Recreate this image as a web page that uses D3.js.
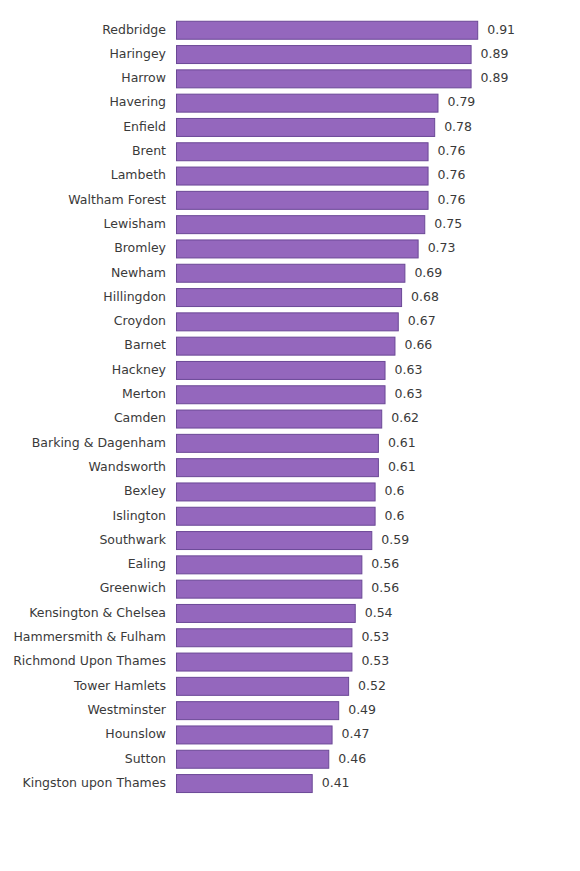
<!DOCTYPE html>
<html>
<head>
<meta charset="utf-8">
<script src="https://cdn.jsdelivr.net/npm/d3@7"></script>
<style>
  body { margin: 0; background: #fff; }
  text { font-family: "DejaVu Sans", sans-serif; font-size: 12.5px; fill: #3a3a3a; }
</style>
</head>
<body>
<svg></svg>
<script>
const boroughs = ["Redbridge", "Haringey", "Harrow", "Havering", "Enfield", "Brent", "Lambeth",
  "Waltham Forest", "Lewisham", "Bromley", "Newham", "Hillingdon", "Croydon", "Barnet", "Hackney",
  "Merton", "Camden", "Barking & Dagenham", "Wandsworth", "Bexley", "Islington", "Southwark",
  "Ealing", "Greenwich", "Kensington & Chelsea", "Hammersmith & Fulham", "Richmond Upon Thames",
  "Tower Hamlets", "Westminster", "Hounslow", "Sutton", "Kingston upon Thames"];
const values = [0.91, 0.89, 0.89, 0.79, 0.78, 0.76, 0.76, 0.76, 0.75, 0.73, 0.69, 0.68, 0.67,
  0.66, 0.63, 0.63, 0.62, 0.61, 0.61, 0.6, 0.6, 0.59, 0.56, 0.56, 0.54, 0.53, 0.53, 0.52,
  0.49, 0.47, 0.46, 0.41];

const svgWidth = 580;
const svgHeight = 871;

const svg = d3.select("svg")
    .attr("width", svgWidth)
    .attr("height", svgHeight);

const x = d3.scaleLinear()
    .domain([0, 1])
    .range([176, 507]);

const y = d3.scaleBand()
    .domain(boroughs)
    .range([17.6, 795.2])
    .paddingInner(0.26)
    .paddingOuter(0.13);

const data = boroughs.map((b, i) => ({ name: b, value: values[i] }));

const row = svg.selectAll("g.row")
    .data(data)
    .enter().append("g")
    .attr("class", "row");

row.append("rect")
    .attr("x", x(0) + 0.5)
    .attr("y", d => y(d.name) + 0.5)
    .attr("width", d => x(d.value) - x(0))
    .attr("height", y.bandwidth())
    .attr("fill", "#9467bd")
    .attr("stroke", "#6b4896")
    .attr("stroke-width", 1);

row.append("text")
    .attr("x", x(0) - 10)
    .attr("y", d => y(d.name) + y.bandwidth() / 2)
    .attr("dy", "0.3em")
    .attr("text-anchor", "end")
    .text(d => d.name);

row.append("text")
    .attr("x", d => x(d.value) + 10)
    .attr("y", d => y(d.name) + y.bandwidth() / 2)
    .attr("dy", "0.3em")
    .text(d => d.value);
</script>
</body>
</html>
